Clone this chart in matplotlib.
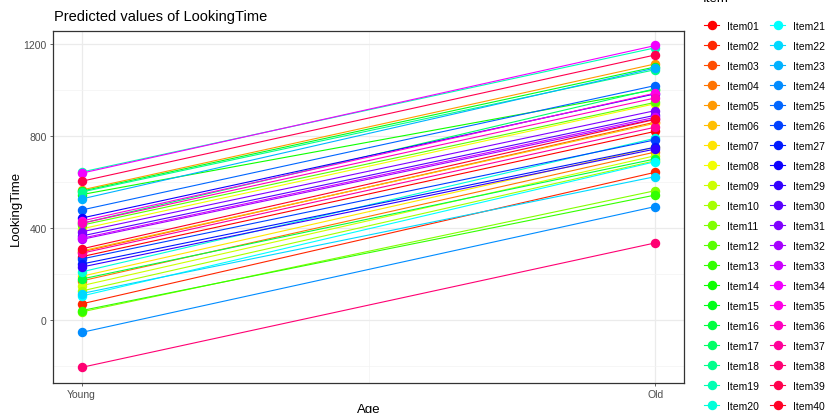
import matplotlib
matplotlib.use("Agg")
import matplotlib.pyplot as plt
import colorsys

plt.rcParams['font.family'] = ['Liberation Sans', 'DejaVu Sans']

# predicted LookingTime per item at each age group
items = ["Item%02d" % i for i in range(1, 41)]
young = [275, 70, 296, 170, 565, 300, 190, 396, 149, 126,
         35, 412, 41, 545, 560, 178, 420, 556, 643, 209,
         104, 115, 526, -54, 478, 265, 243, 443, 230, 365,
         383, 350, 355, 638, 430, 420, 290, -206, 603, 309]
old = [820, 642, 860, 730, 1113, 855, 751, 940, 714, 692,
       562, 946, 543, 1001, 1100, 700, 1005, 1088, 1183, 790,
       688, 623, 1095, 493, 1019, 783, 751, 983, 743, 890,
       910, 874, 881, 1193, 986, 965, 838, 335, 1152, 872]
ages = ["Young", "Old"]

# rainbow palette like R's rainbow(40)
colors = [colorsys.hsv_to_rgb(i / 40, 1, 1) for i in range(40)]

fig = plt.figure(figsize=(8.27, 4.14), dpi=100)
ax = fig.add_axes([53 / 827, 30 / 414, 631 / 827, 352 / 414])

x_pos = [1, 2]
for i, name in enumerate(items):
    ax.plot(x_pos, [young[i], old[i]], color=colors[i], linewidth=0.8,
            marker="o", markersize=5.8, label=name)

# plot config
ax.set_xlim(0.95, 2.05)
ax.set_ylim(-274, 1256)
ax.set_xticks(x_pos)
ax.set_xticklabels(ages)
ax.set_yticks([0, 400, 800, 1200])
ax.set_yticks([-200, 200, 600, 1000], minor=True)
ax.set_xticks([1.5], minor=True)
ax.grid(True, which="major", color="#EBEBEB", linewidth=0.9)
ax.grid(True, which="minor", color="#F3F3F3", linewidth=0.5)
ax.set_axisbelow(True)
for s in ax.spines.values():
    s.set_color("#333333")
    s.set_linewidth(0.9)
ax.tick_params(axis="both", which="major", labelsize=7.5, colors="#4D4D4D",
               length=2.5, width=0.6, pad=2)
ax.tick_params(axis="both", which="minor", length=0)

ax.set_ylabel("LookingTime", fontsize=9.5, labelpad=1)
ax.set_xlabel("Age", fontsize=9.5, labelpad=3)
fig.text(54 / 827, 1 - 17 / 414, "Predicted values of LookingTime",
         fontsize=10.5, va="center", ha="left")

# legend in two columns on the right
fig.text(703 / 827, 1 + 1 / 414, "Item", fontsize=9.5, va="center", ha="left")
fig.legend(loc="upper left", bbox_to_anchor=(704 / 827, 1 - 22 / 414),
           ncol=2, frameon=False, fontsize=7.5, handlelength=1.45,
           labelspacing=0.96, columnspacing=1.1, handletextpad=0.75,
           borderaxespad=0, borderpad=0)

fig.savefig("out.png", dpi=100)
